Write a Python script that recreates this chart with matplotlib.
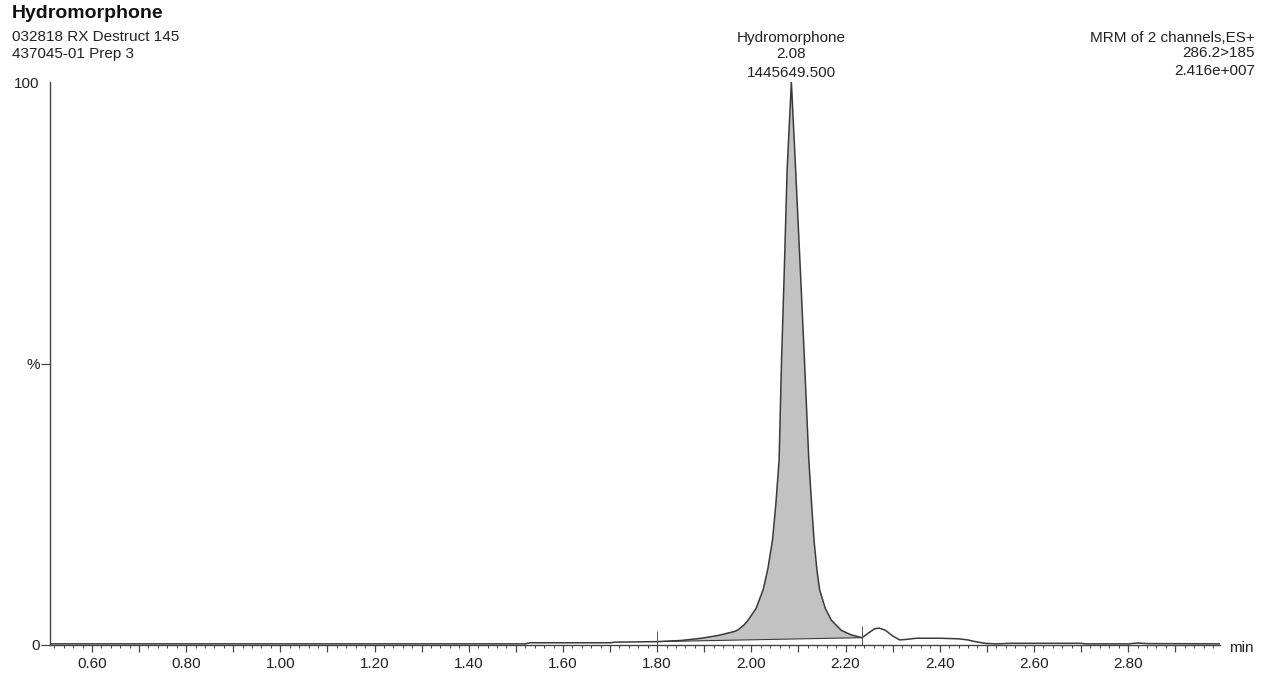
import numpy as np
import matplotlib
matplotlib.use("Agg")
import matplotlib.pyplot as plt
from matplotlib.ticker import MultipleLocator, FuncFormatter

plt.rcParams['font.family'] = ['Liberation Sans', 'DejaVu Sans']

# chromatogram trace: retention time (min) and intensity (%)
rt = [0.511, 1.00, 1.52, 1.53, 1.70, 1.71, 1.80, 1.85, 1.894, 1.93,
      1.964, 1.972, 1.985, 1.993, 2.010, 2.025, 2.035, 2.045, 2.052, 2.059,
      2.064, 2.070, 2.076, 2.085, 2.094, 2.104, 2.113, 2.122, 2.128, 2.133,
      2.139, 2.145, 2.157, 2.170, 2.191, 2.212, 2.235, 2.250, 2.262, 2.272,
      2.285, 2.300, 2.315, 2.330, 2.350, 2.40, 2.44, 2.46, 2.475, 2.496,
      2.52, 2.55, 2.70, 2.71, 2.80, 2.82, 2.84, 3.0]
intensity = [0.2, 0.2, 0.2, 0.4, 0.4, 0.5, 0.6, 0.8, 1.2, 1.7,
             2.4, 2.7, 3.6, 4.4, 6.5, 9.8, 13.5, 18.7, 25.0, 32.9,
             50.2, 66.7, 84.5, 100.0, 84.5, 66.7, 50.2, 32.9, 25.0, 18.7,
             13.5, 9.8, 6.5, 4.4, 2.6, 1.8, 1.3, 2.2, 2.9, 3.0,
             2.6, 1.6, 0.9, 1.0, 1.2, 1.2, 1.1, 0.9, 0.6, 0.3,
             0.2, 0.3, 0.3, 0.2, 0.2, 0.35, 0.25, 0.2]

peak_start = 1.80
peak_end = 2.235
peak_rt = 2.08
peak_apex = 2.085
peak_area = "1445649.500"
compound = "Hydromorphone"
marker_heights = [2.4, 3.3]

xticks_major = 0.1
xticks_minor = 0.02

rt = np.array(rt)
intensity = np.array(intensity)

fig = plt.figure(figsize=(12.72, 6.77), dpi=100)
W, H = 1272, 677
ax = fig.add_axes([50 / W, 1 - 645 / H, 1170 / W, (645 - 82) / H])

txt = '#222222'
line_c = '#3a3a3a'

# integrated area (polygon closes along the drawn baseline)
sel = (rt >= peak_start) & (rt <= peak_end)
ax.fill(rt[sel], intensity[sel], color='#c2c2c2', lw=0, zorder=1)
ax.plot([rt[sel][0], rt[sel][-1]], [intensity[sel][0], intensity[sel][-1]],
        color=line_c, lw=0.8, zorder=2)
ax.plot(rt, intensity, color=line_c, lw=1.1, zorder=3)
ax.vlines([peak_start, peak_end], 0, marker_heights, color='#555555', lw=0.7,
          zorder=3)

ax.set_xlim(0.511, 2.995)
ax.set_ylim(0, 100)

for s in ['top', 'right']:
    ax.spines[s].set_visible(False)
for s in ['left', 'bottom']:
    ax.spines[s].set_color('#444444')
    ax.spines[s].set_linewidth(1.0)

ax.xaxis.set_major_locator(MultipleLocator(xticks_major))
ax.xaxis.set_minor_locator(MultipleLocator(xticks_minor))


def fmt(v, pos):
    k = int(round(v * 10))
    return '%.2f' % v if k % 2 == 0 else ''


ax.xaxis.set_major_formatter(FuncFormatter(fmt))
ax.tick_params(axis='x', which='major', length=5, width=0.9, color='#444444',
               labelsize=11, labelcolor=txt, pad=4)
ax.tick_params(axis='x', which='minor', length=2.2, width=0.7, color='#444444')

ax.set_yticks([0, 50, 100])
ax.set_yticklabels(['0', '%', '100'])
ax.tick_params(axis='y', length=6.5, width=0.9, color='#444444',
               labelsize=11, labelcolor=txt, pad=1)
ax.yaxis.get_major_ticks()[2].tick1line.set_visible(False)

def px(x, y):
    return x / W, 1 - y / H

fig.text(*px(12, 18), 'Hydromorphone', fontsize=14, fontweight='bold',
         color='#111111', ha='left', va='baseline')
fig.text(*px(12, 41), '032818 RX Destruct 145', fontsize=11, color=txt,
         ha='left', va='baseline')
fig.text(*px(12, 58), '437045-01 Prep 3', fontsize=11, color=txt,
         ha='left', va='baseline')

fig.text(*px(1255, 42), 'MRM of 2 channels,ES+', fontsize=11, color=txt,
         ha='right', va='baseline')
fig.text(*px(1255, 57), '286.2>185', fontsize=11, color=txt,
         ha='right', va='baseline')
fig.text(*px(1255, 75), '2.416e+007', fontsize=11, color=txt,
         ha='right', va='baseline')

for dy, s in [(40, compound), (24, '%.2f' % peak_rt), (5, peak_area)]:
    ax.annotate(s, xy=(peak_apex, 100), xytext=(0, dy * 0.72),
                textcoords='offset points', ha='center', va='baseline',
                fontsize=11, color=txt, annotation_clip=False)

fig.text(*px(1229, 652), 'min', fontsize=11, color=txt, ha='left',
         va='baseline')

fig.savefig('out.png', dpi=100, facecolor='white')
